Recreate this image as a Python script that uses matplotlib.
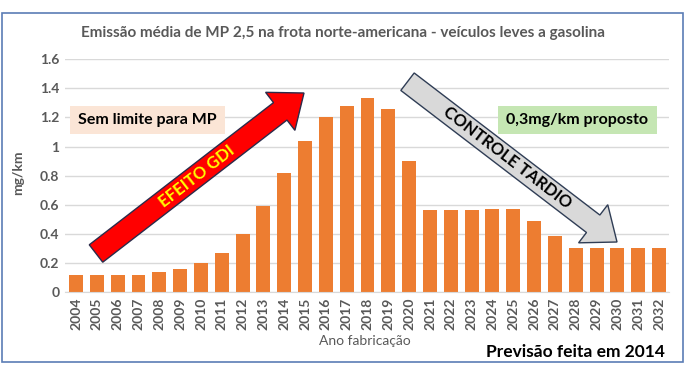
import matplotlib.pyplot as plt
from matplotlib.patches import FancyArrow, Rectangle
from matplotlib.transforms import Affine2D

# dados
anos = [str(a) for a in range(2004, 2033)]
emissao = [0.12, 0.12, 0.12, 0.12, 0.14, 0.16, 0.20, 0.27, 0.40, 0.59,
           0.82, 1.04, 1.20, 1.28, 1.335, 1.26, 0.90, 0.565, 0.565, 0.565,
           0.57, 0.57, 0.485, 0.385, 0.30, 0.30, 0.30, 0.30, 0.30]
yticks = [0, 0.2, 0.4, 0.6, 0.8, 1, 1.2, 1.4, 1.6]
ytick_labels = ['0', '0.2', '0.4', '0.6', '0.8', '1', '1.2', '1.4', '1.6']

plt.rcParams['font.family'] = ['Lato', 'DejaVu Sans']
W, H = 692, 366
fig = plt.figure(figsize=(W / 100, H / 100), dpi=100)
# coordenadas em pixels (origem no canto superior esquerdo)
px = Affine2D().scale(1 / W, -1 / H).translate(0, 1) + fig.transFigure

ax = fig.add_axes([65 / W, 74 / H, (669 - 65) / W, (306.7 - 74) / H])
ax.bar(range(len(anos)), emissao, width=0.67, color='#ED7D31', zorder=2)
ax.set_xlim(-0.53, len(anos) - 0.52)
ax.set_ylim(0, 1.6)
ax.set_xticks(range(len(anos)))
ax.set_xticklabels(anos, rotation=90, fontsize=10, color='#595959', fontweight='bold')
ax.set_yticks(yticks)
ax.set_yticklabels(ytick_labels, fontsize=10, color='#595959', fontweight='bold')
ax.tick_params(length=0, pad=4)
ax.grid(axis='y', color='#D9D9D9', linewidth=1, zorder=0)
for s in ax.spines.values():
    s.set_visible(False)
ax.spines['bottom'].set_visible(True)
ax.spines['bottom'].set_color('#D9D9D9')

# moldura
fig.patches.append(Rectangle((1.5, 13), 681, 349, transform=px, fill=False,
                             edgecolor='#5B7DB5', linewidth=1.2))

fig.text(343 / W, 1 - 33 / H, 'Emissão média de MP 2,5 na frota norte-americana - veículos leves a gasolina',
         ha='center', va='center', fontsize=11, color='#595959', fontweight='bold')
fig.text(18 / W, 1 - 173 / H, 'mg/km', rotation=90, ha='center', va='center',
         fontsize=10, color='#595959', fontweight='bold')
fig.text(365 / W, 1 - 341 / H, 'Ano fabricação', ha='center', va='center',
         fontsize=10, color='#595959')
fig.text(665 / W, 1 - 352 / H, 'Previsão feita em 2014', ha='right', va='center',
         fontsize=12.5, fontweight='bold', color='black')

# caixas de texto
fig.patches.append(Rectangle((70, 106), 155, 28, transform=px, facecolor='#FBE5D6',
                             edgecolor='none'))
fig.text(147 / W, 1 - 120 / H, 'Sem limite para MP', ha='center', va='center',
         fontsize=11.5, fontweight='bold', color='black')
fig.patches.append(Rectangle((498, 106), 159, 28, transform=px, facecolor='#C5E6B3',
                             edgecolor='none'))
fig.text(577 / W, 1 - 120 / H, '0,3mg/km proposto', ha='center', va='center',
         fontsize=11.5, fontweight='bold', color='black')

# setas
fig.patches.append(FancyArrow(96, 253.5, 208, -160.5, width=22, head_width=48,
                              head_length=30, length_includes_head=True, transform=px,
                              facecolor='#FF0000', edgecolor='#2B2B4A', linewidth=1))
fig.text(197 / W, 1 - 176 / H, 'EFEITO GDI', rotation=37.7, ha='center', va='center',
         rotation_mode='anchor', fontsize=12, fontweight='bold', color='#FFFF00')
fig.patches.append(FancyArrow(407.5, 81.7, 209.5, 160.3, width=22, head_width=48,
                              head_length=30, length_includes_head=True, transform=px,
                              facecolor='#D9D9D9', edgecolor='#2F3D55', linewidth=1))
fig.text(507 / W, 1 - 158 / H, 'CONTROLE TARDIO', rotation=-37.4, ha='center', va='center',
         rotation_mode='anchor', fontsize=12, fontweight='bold', color='black')

fig.savefig('out.png', dpi=100)
